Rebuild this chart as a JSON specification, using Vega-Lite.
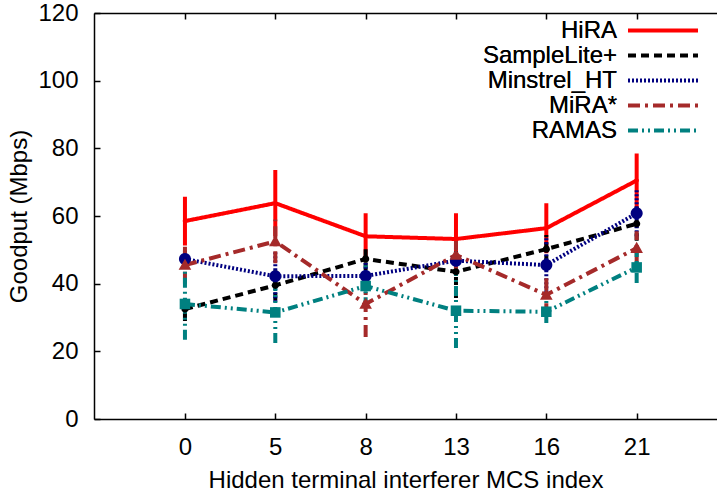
{
  "$schema": "https://vega.github.io/schema/vega-lite/v6.json",
  "width": 623,
  "height": 406,
  "autosize": {"type": "none"},
  "padding": {"left": 94, "top": 13, "right": 0, "bottom": 75},
  "background": "white",
  "config": {
    "font": "Liberation Sans",
    "view": {"stroke": null},
    "axis": {
      "grid": false,
      "domainColor": "#000",
      "tickColor": "#000",
      "labelColor": "#000",
      "titleColor": "#000",
      "labelFontSize": 24,
      "titleFontSize": 24,
      "titleFontWeight": "normal",
      "domainWidth": 1.5,
      "tickWidth": 1.5
    },
    "legend": {"labelColor": "#000", "labelFont": "Liberation Sans"}
  },
  "resolve": {"axis": {"x": "independent", "y": "independent"}},
  "data": {
    "values": [
      {"method": "HiRA", "mcs": "0", "goodput": 58.5, "lo": 51.3, "hi": 65.7},
      {"method": "HiRA", "mcs": "5", "goodput": 63.8, "lo": 54.0, "hi": 73.6},
      {"method": "HiRA", "mcs": "8", "goodput": 54.0, "lo": 47.2, "hi": 60.8},
      {"method": "HiRA", "mcs": "13", "goodput": 53.2, "lo": 45.6, "hi": 60.8},
      {"method": "HiRA", "mcs": "16", "goodput": 56.4, "lo": 49.0, "hi": 63.8},
      {"method": "HiRA", "mcs": "21", "goodput": 70.5, "lo": 62.5, "hi": 78.5},
      {"method": "SampleLite+", "mcs": "0", "goodput": 32.5, "lo": 29.0, "hi": 36.0},
      {"method": "SampleLite+", "mcs": "5", "goodput": 39.5, "lo": 35.0, "hi": 44.0},
      {"method": "SampleLite+", "mcs": "8", "goodput": 47.3, "lo": 44.0, "hi": 50.6},
      {"method": "SampleLite+", "mcs": "13", "goodput": 43.5, "lo": 35.8, "hi": 51.2},
      {"method": "SampleLite+", "mcs": "16", "goodput": 50.2, "lo": 46.0, "hi": 54.4},
      {"method": "SampleLite+", "mcs": "21", "goodput": 57.7, "lo": 52.7, "hi": 62.7},
      {"method": "Minstrel_HT", "mcs": "0", "goodput": 47.3, "lo": 44.5, "hi": 50.1},
      {"method": "Minstrel_HT", "mcs": "5", "goodput": 42.2, "lo": 34.5, "hi": 49.9},
      {"method": "Minstrel_HT", "mcs": "8", "goodput": 42.3, "lo": 38.5, "hi": 46.1},
      {"method": "Minstrel_HT", "mcs": "13", "goodput": 46.8, "lo": 43.0, "hi": 50.6},
      {"method": "Minstrel_HT", "mcs": "16", "goodput": 45.5, "lo": 37.5, "hi": 53.5},
      {"method": "Minstrel_HT", "mcs": "21", "goodput": 60.8, "lo": 54.0, "hi": 67.6},
      {"method": "MiRA*", "mcs": "0", "goodput": 45.5, "lo": 40.0, "hi": 51.0},
      {"method": "MiRA*", "mcs": "5", "goodput": 52.5, "lo": 46.0, "hi": 59.0},
      {"method": "MiRA*", "mcs": "8", "goodput": 34.0, "lo": 24.2, "hi": 43.8},
      {"method": "MiRA*", "mcs": "13", "goodput": 48.5, "lo": 42.5, "hi": 54.5},
      {"method": "MiRA*", "mcs": "16", "goodput": 36.7, "lo": 30.7, "hi": 42.7},
      {"method": "MiRA*", "mcs": "21", "goodput": 50.5, "lo": 45.5, "hi": 55.5},
      {"method": "RAMAS", "mcs": "0", "goodput": 34.0, "lo": 23.4, "hi": 44.6},
      {"method": "RAMAS", "mcs": "5", "goodput": 31.5, "lo": 22.5, "hi": 40.5},
      {"method": "RAMAS", "mcs": "8", "goodput": 39.3, "lo": 33.0, "hi": 45.6},
      {"method": "RAMAS", "mcs": "13", "goodput": 32.0, "lo": 21.0, "hi": 43.0},
      {"method": "RAMAS", "mcs": "16", "goodput": 31.7, "lo": 28.4, "hi": 35.0},
      {"method": "RAMAS", "mcs": "21", "goodput": 44.8, "lo": 40.2, "hi": 49.4}
    ]
  },
  "layer": [
    {
      "mark": {"type": "rule", "strokeWidth": 4},
      "encoding": {
        "x": {
          "field": "mcs", "type": "ordinal",
          "scale": {"type": "point", "domain": ["0", "5", "8", "13", "16", "21"], "padding": 0.948, "align": 0.531},
          "axis": {"orient": "bottom", "labelAngle": 0, "tickSize": 0, "labelPadding": 16, "title": "Hidden terminal interferer MCS index", "titlePadding": 9}
        },
        "y": {
          "field": "lo", "type": "quantitative",
          "scale": {"domain": [0, 120], "nice": false},
          "axis": {"orient": "left", "values": [0, 20, 40, 60, 80, 100, 120], "tickSize": 0, "labelPadding": 16, "title": "Goodput (Mbps)", "titlePadding": 6}
        },
        "y2": {"field": "hi"},
        "color": {
          "field": "method", "type": "nominal",
          "scale": {"domain": ["HiRA", "SampleLite+", "Minstrel_HT", "MiRA*", "RAMAS"], "range": ["#ff0000", "#000000", "#000080", "#a52a2a", "#008080"]}
        },
        "strokeDash": {
          "field": "method", "type": "nominal",
          "scale": {"domain": ["HiRA", "SampleLite+", "Minstrel_HT", "MiRA*", "RAMAS"], "range": [[1, 0], [8, 5], [2, 2], [12, 5, 3, 5], [10, 4, 2, 4, 2, 4]]}
        }
      }
    },
    {
      "mark": {"type": "line", "strokeWidth": 4},
      "encoding": {
        "x": {
          "field": "mcs", "type": "ordinal",
          "axis": {"orient": "top", "offset": -6, "domain": false, "labels": false, "tickSize": 6, "title": null}
        },
        "y": {
          "field": "goodput", "type": "quantitative",
          "axis": {"orient": "left", "offset": -6, "values": [0, 20, 40, 60, 80, 100, 120], "domain": false, "labels": false, "tickSize": 6, "title": null}
        },
        "color": {
          "field": "method", "type": "nominal",
          "legend": {"orient": "none", "legendX": 532, "legendY": 5, "title": null, "symbolType": "stroke", "symbolSize": 4900, "symbolStrokeWidth": 4, "clipHeight": 25, "rowPadding": 0, "padding": 0, "labelFontSize": 24, "labelAlign": "right", "labelOffset": 8, "labelExpr": "'\u00a0'"}
        },
        "strokeDash": {
          "field": "method", "type": "nominal",
          "legend": {"orient": "none", "legendX": 532, "legendY": 5, "title": null, "symbolType": "stroke", "symbolSize": 4900, "symbolStrokeWidth": 4, "clipHeight": 25, "rowPadding": 0, "padding": 0, "labelFontSize": 24, "labelAlign": "right", "labelOffset": 8, "labelExpr": "'\u00a0'"}
        }
      }
    },
    {
      "mark": {"type": "point", "filled": true, "size": 144, "opacity": 1},
      "encoding": {
        "x": {
          "field": "mcs", "type": "ordinal",
          "axis": {"orient": "bottom", "offset": -6, "domain": false, "labels": false, "tickSize": 6, "title": null}
        },
        "y": {
          "field": "goodput", "type": "quantitative",
          "axis": {"orient": "left", "values": [120], "grid": true, "gridColor": "#000", "gridWidth": 1.5, "gridOpacity": 1, "domain": false, "ticks": false, "labels": false, "title": null}
        },
        "shape": {
          "field": "method", "type": "nominal",
          "sort": ["HiRA", "SampleLite+", "Minstrel_HT", "MiRA*", "RAMAS"],
          "scale": {"range": [
            "M-0.37,0A0.37,0.37,0,1,0,0.37,0A0.37,0.37,0,1,0,-0.37,0Z",
            "M-0.6,0A0.6,0.6,0,1,0,0.6,0A0.6,0.6,0,1,0,-0.6,0Z",
            "M-1,0A1,1,0,1,0,1,0A1,1,0,1,0,-1,0Z",
            "M0,-1.05L1.05,0.8L-1.05,0.8Z",
            "M-0.88,-0.88H0.88V0.88H-0.88Z"
          ]},
          "legend": {"orient": "none", "legendX": 532, "legendY": 5, "title": null, "symbolSize": 144, "symbolStrokeWidth": 0, "symbolOffset": 31, "clipHeight": 25, "rowPadding": 0, "padding": 0, "labelFontSize": 24, "labelAlign": "right", "labelOffset": -64, "labelLimit": 500}
        },
        "fill": {
          "field": "method", "type": "nominal",
          "sort": ["HiRA", "SampleLite+", "Minstrel_HT", "MiRA*", "RAMAS"],
          "scale": {"range": ["#ff0000", "#000000", "#000080", "#a52a2a", "#008080"]},
          "legend": {"orient": "none", "legendX": 532, "legendY": 5, "title": null, "symbolSize": 144, "symbolStrokeWidth": 0, "symbolOffset": 31, "clipHeight": 25, "rowPadding": 0, "padding": 0, "labelFontSize": 24, "labelAlign": "right", "labelOffset": -64, "labelLimit": 500}
        }
      }
    }
  ]
}
